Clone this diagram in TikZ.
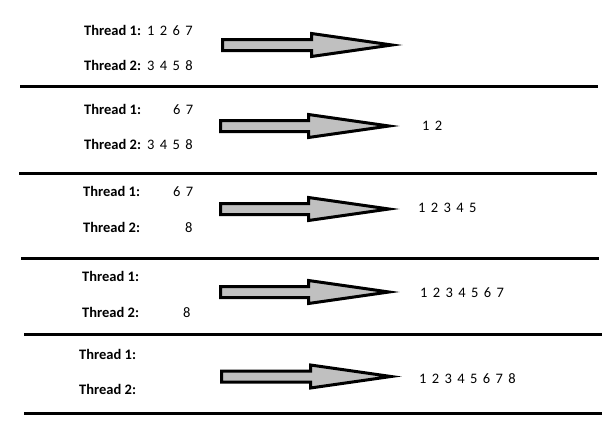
\documentclass[tikz,border=0pt]{standalone}
\usepackage{fontspec}
\setmainfont{Carlito}
\definecolor{arrowgray}{RGB}{192,192,192}
\newcommand\numfnt{\fontsize{14.5}{17}\selectfont\spaceskip 5.4pt plus 0pt minus 0pt\relax}
\newcommand\blockarrow[4]{% left x, center y, head base x, tip x
  \draw[blockarr] (#1+1.5,#2-5.5) -- (#3+1.5,#2-5.5) -- (#3+1.5,#2-11.5)
    -- (#4-8,#2) -- (#3+1.5,#2+11.5) -- (#3+1.5,#2+5.5) -- (#1+1.5,#2+5.5) -- cycle;}
\begin{document}
\begin{tikzpicture}[x=1pt,y=-1pt,
  lbl/.style={anchor=base west,inner sep=0pt,font=\fontsize{14.5}{17}\selectfont\bfseries},
  num/.style={anchor=base west,inner sep=0pt,font=\numfnt},
  sep/.style={line width=3.2pt},
  blockarr/.style={draw=black,fill=arrowgray,line width=3pt,line join=miter}]
\useasboundingbox (0,0) rectangle (615,434);
% separators
\draw[sep] (20,86.3) -- (597.7,86.3);
\draw[sep] (19,173.3) -- (596.7,173.3);
\draw[sep] (21,258.3) -- (599,258.3);
\draw[sep] (24,334.3) -- (602,334.3);
\draw[sep] (24,413.3) -- (602,413.3);
% row 1
\node[lbl] (r1a) at (84,35) {Thread 1:};
\node[num] (r1an) at (147,35) {1 2 6 7};
\node[lbl] (r1b) at (84,70) {Thread 2:};
\node[num] (r1bn) at (147,70) {3 4 5 8};
\blockarrow{221}{45}{310}{400}
% row 2
\node[lbl] (r2a) at (84,114) {Thread 1:};
\node[num] (r2an) at (173,114) {6 7};
\node[lbl] (r2b) at (84,149) {Thread 2:};
\node[num] (r2bn) at (147,149) {3 4 5 8};
\blockarrow{219}{126}{307}{397}
\node[num] (r2o) at (422,130) {1 2};
% row 3
\node[lbl] (r3a) at (83,196) {Thread 1:};
\node[num] (r3an) at (173,196) {6 7};
\node[lbl] (r3b) at (83,232) {Thread 2:};
\node[num] (r3bn) at (185,232) {8};
\blockarrow{219}{209}{307}{397}
\node[num] (r3o) at (418,212) {1 2 3 4 5};
% row 4
\node[lbl] (r4a) at (82,281) {Thread 1:};
\node[lbl] (r4b) at (82,317) {Thread 2:};
\node[num] (r4bn) at (183,317) {8};
\blockarrow{219}{292}{307}{397}
\node[num] (r4o) at (420,297) {1 2 3 4 5 6 7};
% row 5
\node[lbl] (r5a) at (79,359) {Thread 1:};
\node[lbl] (r5b) at (79,394) {Thread 2:};
\blockarrow{220}{376.5}{309}{399}
\node[num] (r5o) at (419,383) {1 2 3 4 5 6 7 8};
\end{tikzpicture}
\end{document}
